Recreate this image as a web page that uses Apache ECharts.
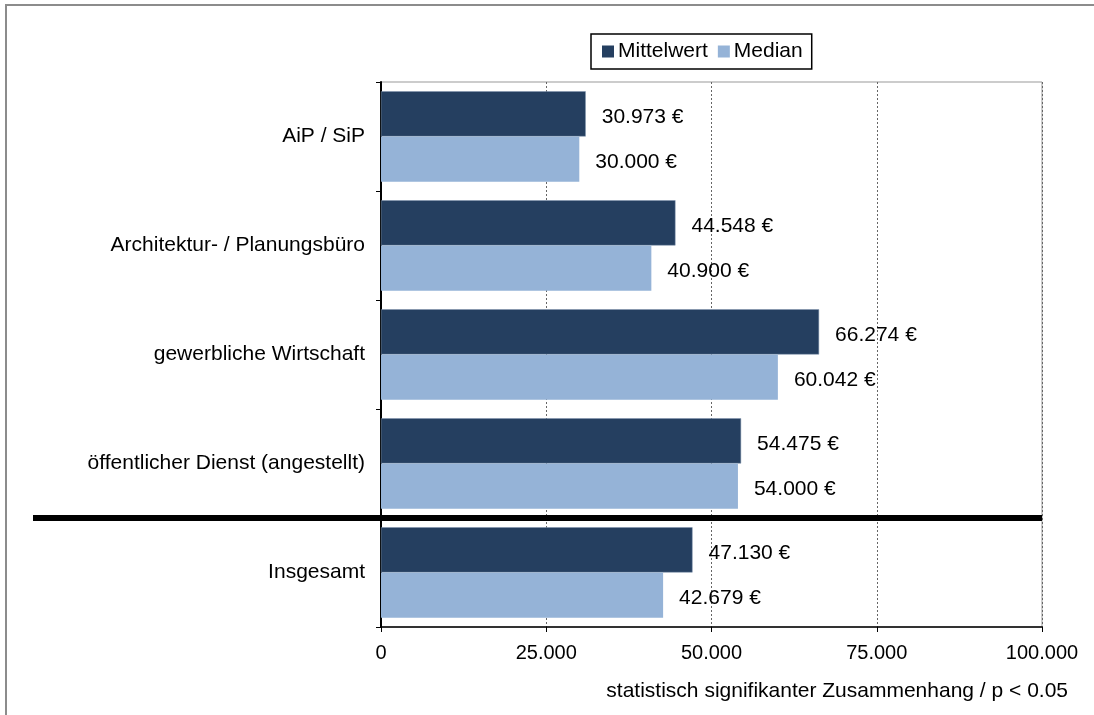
<!DOCTYPE html>
<html>
<head>
<meta charset="utf-8">
<script src="https://cdn.jsdelivr.net/npm/echarts@6/dist/echarts.min.js"></script>
<style>
html,body{margin:0;padding:0;background:#fff;}
#main{width:1094px;height:715px;}
</style>
</head>
<body>
<div id="main"></div>
<script>
var categories = ['AiP / SiP', 'Architektur- / Planungsbüro', 'gewerbliche Wirtschaft', 'öffentlicher Dienst (angestellt)', 'Insgesamt'];
var mittelwert = [30973, 44548, 66274, 54475, 47130];
var median = [30000, 40900, 60042, 54000, 42679];
var seriesNames = ['Mittelwert', 'Median'];
var note = 'statistisch signifikanter Zusammenhang / p < 0.05';

function fmt(v) {
    return String(v).replace(/\B(?=(\d{3})+(?!\d))/g, '.');
}

var font = 'Liberation Sans, Arial, sans-serif';
var myChart = echarts.init(document.getElementById('main'), null, {renderer: 'canvas'});

var option = {
    animation: false,
    textStyle: {fontFamily: font},
    legend: {
        data: seriesNames,
        top: 34,
        left: 591,
        icon: 'rect',
        itemWidth: 12,
        itemHeight: 12,
        itemGap: 10,
        padding: [7, 9, 7, 11],
        borderColor: '#000',
        borderWidth: 1.5,
        itemStyle: {borderWidth: 0},
        textStyle: {fontSize: 21, color: '#000', fontFamily: font, padding: [0, 0, 0, -1]}
    },
    grid: {
        left: 381,
        right: 52,
        top: 82,
        bottom: 88,
        show: true,
        borderColor: '#999',
        borderWidth: 1
    },
    xAxis: {
        type: 'value',
        min: 0,
        max: 100000,
        interval: 25000,
        axisLine: {show: true, lineStyle: {color: '#000', width: 1.5}},
        axisTick: {show: true, length: 5, lineStyle: {color: '#000'}},
        axisLabel: {
            fontSize: 20, color: '#000', margin: 16, fontFamily: font,
            formatter: function (v) { return fmt(v); }
        },
        splitLine: {show: true, lineStyle: {color: '#666', type: [2, 2], width: 1}}
    },
    yAxis: {
        type: 'category',
        data: categories,
        inverse: true,
        axisLine: {show: true, lineStyle: {color: '#000', width: 2}},
        axisTick: {show: true, length: 5, lineStyle: {color: '#000'}},
        axisLabel: {fontSize: 21, color: '#000', margin: 16, fontFamily: font, padding: [5, 0, 0, 0]}
    },
    series: [
        {
            name: seriesNames[0],
            type: 'bar',
            data: mittelwert,
            barGap: '0%',
            barCategoryGap: '17%',
            itemStyle: {color: '#253F60', borderColor: '#7f93ad', borderWidth: 0.5},
            label: {
                show: true, position: 'right', distance: 16, offset: [0, 3],
                fontSize: 21, color: '#000', fontFamily: font,
                formatter: function (p) { return fmt(p.value) + ' €'; }
            }
        },
        {
            name: seriesNames[1],
            type: 'bar',
            data: median,
            itemStyle: {color: '#95B3D7'},
            label: {
                show: true, position: 'right', distance: 16, offset: [0, 3],
                fontSize: 21, color: '#000', fontFamily: font,
                formatter: function (p) { return fmt(p.value) + ' €'; }
            }
        }
    ]
};
myChart.setOption(option);

// separator line above "Insgesamt" and outer frame
var sepY = (myChart.convertToPixel({yAxisIndex: 0}, categories[3]) + myChart.convertToPixel({yAxisIndex: 0}, categories[4])) / 2;
var rightX = myChart.convertToPixel({xAxisIndex: 0}, 100000);
myChart.setOption({
    graphic: [
        {
            type: 'rect',
            shape: {x: 6, y: 5, width: 1100, height: 720},
            style: {fill: null, stroke: '#8c8c8c', lineWidth: 2},
            silent: true
        },
        {
            type: 'line',
            shape: {x1: 33, y1: sepY, x2: rightX, y2: sepY},
            style: {stroke: '#000', lineWidth: 6},
            z: 100
        },
        {
            type: 'text',
            right: 26,
            top: 681,
            style: {text: note, fill: '#000', font: '21px ' + font}
        }
    ]
});
</script>
</body>
</html>
